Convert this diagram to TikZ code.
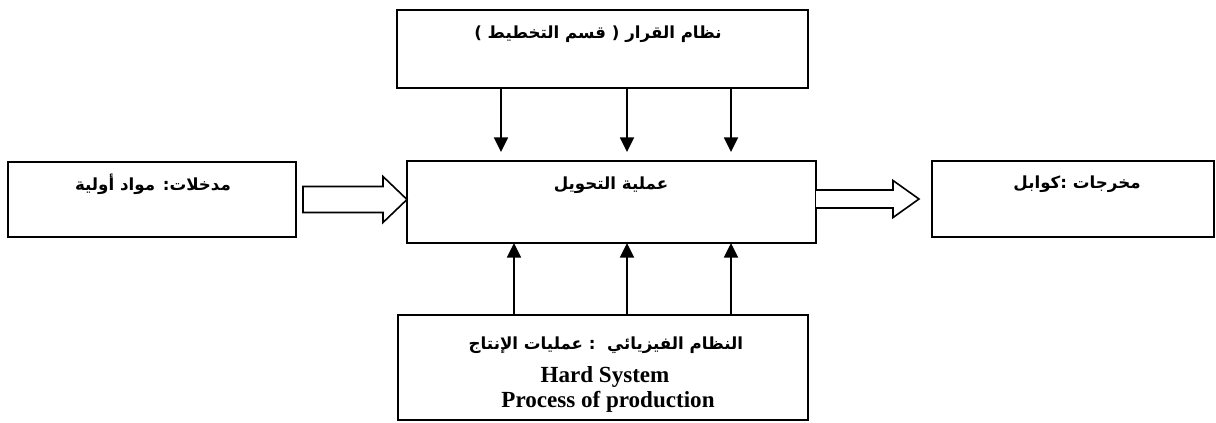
\documentclass[tikz,border=0pt]{standalone}
\usepackage{fontspec}
\setmainfont{Liberation Serif}
\newfontfamily\arabicfont[Script=Arabic]{DejaVu Sans}
\TeXXeTstate=1
\usetikzlibrary{arrows.meta,calc}
\tikzset{
  box/.style={draw, line width=1.3pt, inner sep=0pt, outer sep=0pt},
  artext/.style={font=\arabicfont\bfseries\fontsize{12.5pt}{14pt}\selectfont, inner sep=0pt},
  entext/.style={font=\bfseries\fontsize{17.3pt}{19pt}\selectfont, inner sep=0pt, anchor=base},
  arr/.style={line width=1.3pt, -{Triangle[length=11pt,width=10.5pt]}},
  block/.style={draw, line width=1.2pt, line join=miter, fill=white}
}
\begin{document}
\begin{tikzpicture}[x=0.75pt,y=-0.75pt]
\useasboundingbox (0,0) rectangle (1216,422);
% boxes
\node[box, minimum width=308.25pt, minimum height=58.5pt] (top) at (602.5,49) {};
\node[box, minimum width=306.75pt, minimum height=61.5pt] (ctr) at (611.5,202) {};
\node[box, minimum width=216pt, minimum height=56.25pt] (lft) at (152,199.5) {};
\node[box, minimum width=211.5pt, minimum height=57pt] (rgt) at (1073,199) {};
\node[box, minimum width=307.5pt, minimum height=78.75pt] (bot) at (603,367.5) {};
% texts
\node[artext] (topt) at (598,34) {\beginR نظام القرار ( قسم التخطيط )\endR};
\node[artext] (ctrt) at (611,185) {\beginR عملية التحويل\endR};
\node[artext] (lftt) at (153,184) {\beginR مدخلات: مواد أولية\endR};
\node[artext] (rgtt) at (1077,184) {\beginR مخرجات :كوابل\endR};
\node[artext] (bott) at (606,345) {\beginR النظام الفيزيائي\ \ :\ عمليات الإنتاج\endR};
\node[entext] (hard) at (605,382) {Hard System};
\node[entext] (proc) at (608,407) {Process of production};
% down arrows
\coordinate (d1) at (501,152);
\coordinate (d2) at (627,152);
\coordinate (d3) at (731,152);
\draw[arr] (top.south -| d1) -- (d1);
\draw[arr] (top.south -| d2) -- (d2);
\draw[arr] (top.south -| d3) -- (d3);
% up arrows
\coordinate (u1) at (514,0);
\coordinate (u2) at (627,0);
\coordinate (u3) at (731,0);
\draw[arr] (bot.north -| u1) -- (ctr.south -| u1);
\draw[arr] (bot.north -| u2) -- (ctr.south -| u2);
\draw[arr] (bot.north -| u3) -- (ctr.south -| u3);
% hollow block arrows
\coordinate (tailL) at ($(lft.east)+(7,0)$);
\coordinate (tipL) at (ctr.west |- lft.east);
\draw[block] ($(tailL)+(0,-13)$) -- ($(tipL)+(-24,-13)$) -- ($(tipL)+(-24,-23)$) -- (tipL)
  -- ($(tipL)+(-24,23)$) -- ($(tipL)+(-24,13)$) -- ($(tailL)+(0,13)$) -- cycle;
\coordinate (tailR) at (ctr.east |- rgt.west);
\coordinate (tipR) at ($(rgt.west)+(-13,0)$);
\draw[block] ($(tailR)+(0,-9)$) -- ($(tipR)+(-26,-9)$) -- ($(tipR)+(-26,-18.5)$) -- (tipR)
  -- ($(tipR)+(-26,18.5)$) -- ($(tipR)+(-26,9)$) -- ($(tailR)+(0,9)$);
\end{tikzpicture}
\end{document}
